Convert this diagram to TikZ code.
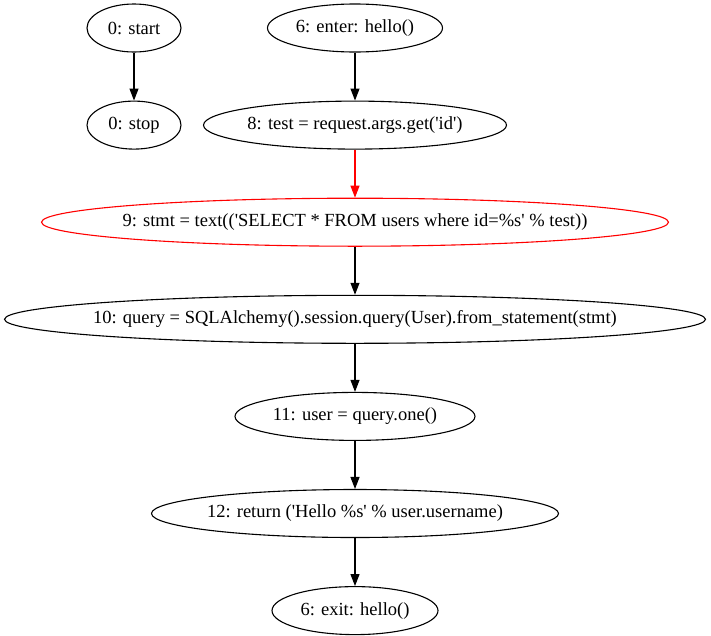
\documentclass[tikz,border=0pt]{standalone}
\usepackage{fontspec}
\setmainfont{Liberation Serif}
\usepackage{tikz}
\tikzset{cfg node/.style={ellipse,draw,line width=1.1pt,minimum height=48pt,inner xsep=-300pt,inner ysep=-30pt,font=\fontsize{18.5}{22}\selectfont},
cfg edge/.style={draw,line width=1.1pt,-{Triangle[length=12pt,width=9pt]}},
}
\usetikzlibrary{positioning,shapes.geometric,arrows.meta}
\newcommand{\q}{\textquotesingle}

\begin{document}
\begin{tikzpicture}[x=1pt,y=-1pt,node distance=48pt]
			\useasboundingbox (0,0) rectangle (711,635);

			%%
			\node[cfg node,minimum width=94pt] (start) at (134,28) {0: start};
			\node[cfg node,minimum width=94pt] (stop) [below = of start] {0: stop};

			\node[cfg node,minimum width=175pt] (enter) at (355,28) {6: enter: hello()};
			\node[cfg node,minimum width=303pt] (test) [below = of enter] {8: test = request.args.get(\q id\q)};
			\node[cfg node,minimum width=627pt,draw=red] (stmt) [below = of test] {9: stmt = text((\q SELECT * FROM users where id=\%s\q{} \% test))};
			\node[cfg node,minimum width=701pt] (query) [below = of stmt] {10: query = SQLAlchemy().session.query(User).from\_statement(stmt)};
			\node[cfg node,minimum width=240pt] (user) [below = of query] {11: user = query.one()};
			\node[cfg node,minimum width=407pt] (ret) [below = of user] {12: return (\q Hello \%s\q{} \% user.username)};
			\node[cfg node,minimum width=166pt] (exit) [below = of ret] {6: exit: hello()};

			\path[cfg edge]
			(start) edge (stop)
			(enter) edge (test)
			(test) edge[draw=red,fill=red] (stmt)
			(stmt) edge (query)
			(query) edge (user)
			(user) edge (ret)
			(ret) edge (exit)
			;
\end{tikzpicture}
\end{document}
